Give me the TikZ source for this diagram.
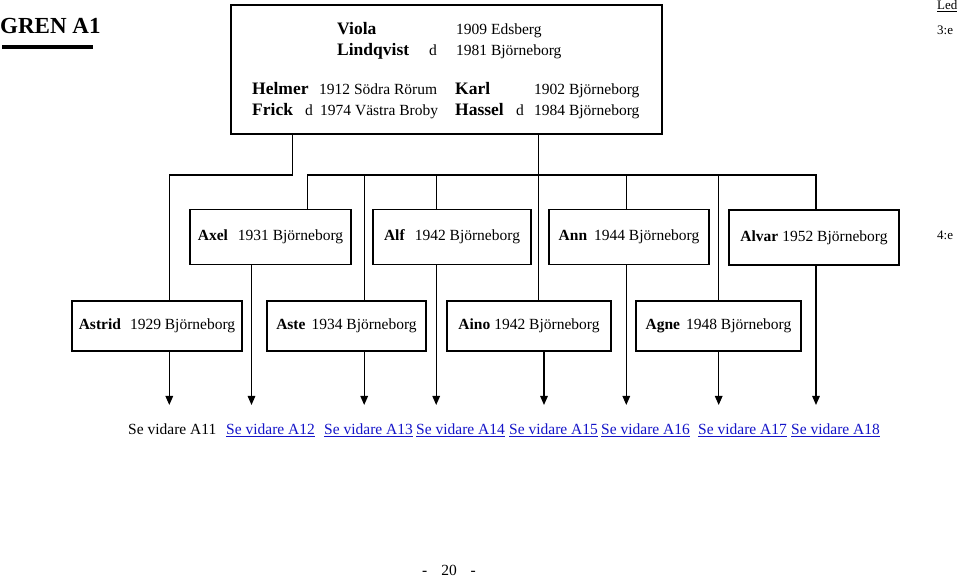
\documentclass[tikz,border=0pt]{standalone}
\usepackage{fontspec}
\setmainfont{Liberation Serif}
\usetikzlibrary{arrows.meta}

\definecolor{linkblue}{RGB}{20,20,200}

\tikzset{
  kid/.style={draw, line width=1.3pt, minimum height=55pt, inner sep=0pt,
    font=\fontsize{15.5}{18}\selectfont},
  link/.style={line width=1.3pt},
  down/.style={link, -{Triangle[length=9pt,width=7.5pt]}},
  txt/.style={anchor=base west, inner sep=0pt, font=\fontsize{15.5}{18}\selectfont},
  pname/.style={anchor=base west, inner sep=0pt, font=\fontsize{17.5}{20}\selectfont\bfseries},
  seref/.style={anchor=base west, inner sep=0pt, text=linkblue, font=\fontsize{15.5}{18}\selectfont}
}

\begin{document}
\begin{tikzpicture}[x=1pt,y=-1pt]
    \useasboundingbox (0,0) rectangle (959,577);

    % Heading
    \node[anchor=base west, inner sep=0pt, font=\fontsize{23}{26}\selectfont\bfseries] (gren) at (0,34) {GREN A1};
    \fill (2,45) rectangle (93,49.5);

    % Generation markers
    \node[anchor=base west, inner sep=0pt, font=\fontsize{13}{15}\selectfont] (led) at (937,10) {\underline{Led}};
    \node[anchor=base west, inner sep=0pt, font=\fontsize{13}{15}\selectfont] (gen3) at (937,35) {3:e};
    \node[anchor=base west, inner sep=0pt, font=\fontsize{13}{15}\selectfont] (gen4) at (937,240) {4:e};

    % Parents box
    \node[draw, line width=1.5pt, minimum width=431pt, minimum height=129pt] (fam) at (446.5,69.5) {};
    \node[pname] (viola) at (337,34.5) {Viola};
    \node[txt] (violab) at (456,34.5) {1909 Edsberg};
    \node[pname] (lindq) at (337,55.5) {Lindqvist};
    \node[txt] (violad) at (429,55.5) {d};
    \node[txt] (violadd) at (456,55.5) {1981 Björneborg};
    \node[pname] (helmer) at (252,94.5) {Helmer};
    \node[txt] (helmerb) at (319,94.5) {1912 Södra Rörum};
    \node[pname] (frick) at (252,115.5) {Frick};
    \node[txt] (frickd) at (305,115.5) {d};
    \node[txt] (frickdd) at (320,115.5) {1974 Västra Broby};
    \node[pname] (karl) at (455,94.5) {Karl};
    \node[txt] (karlb) at (534,94.5) {1902 Björneborg};
    \node[pname] (hassel) at (455,115.5) {Hassel};
    \node[txt] (hasseld) at (516,115.5) {d};
    \node[txt] (hasseldd) at (534,115.5) {1984 Björneborg};

    % Children, first row
    \node[kid, minimum width=161pt] (axel) at (270.5,237) {\textbf{Axel}\hspace{10pt}1931 Björneborg};
    \node[kid, minimum width=158pt] (alf) at (452,237) {\textbf{Alf}\hspace{10pt}1942 Björneborg};
    \node[kid, minimum width=160pt] (ann) at (629,237) {\textbf{Ann}\hspace{7pt}1944 Björneborg};
    \node[kid, minimum width=170pt] (alvar) at (814,237.5) {\textbf{Alvar}\hspace{4pt}1952 Björneborg};

    % Children, second row
    \node[kid, minimum width=170pt, minimum height=50pt] (astrid) at (157,326) {\textbf{Astrid}\hspace{9pt}1929 Björneborg};
    \node[kid, minimum width=159pt, minimum height=50pt] (aste) at (346.5,326) {\textbf{Aste}\hspace{6pt}1934 Björneborg};
    \node[kid, minimum width=164pt, minimum height=50pt] (aino) at (529,326) {\textbf{Aino}\hspace{4pt}1942 Björneborg};
    \node[kid, minimum width=165pt, minimum height=50pt] (agne) at (718.5,326) {\textbf{Agne}\hspace{6pt}1948 Björneborg};

    % Ends of the arrows
    \coordinate (a11) at (169.3,405);
    \coordinate (a12) at (251.5,405);
    \coordinate (a13) at (364.2,405);
    \coordinate (a14) at (436.2,405);
    \coordinate (a15) at (544,405);
    \coordinate (a16) at (626.3,405);
    \coordinate (a17) at (718.7,405);
    \coordinate (a18) at (816,405);

    % Line from Helmer down to Astrid
    \coordinate (hbar) at (292.5,175);
    \draw[link] (hbar |- fam.south) -- (hbar) -| (a11 |- astrid.north);

    % Lines from Karl to his children
    \coordinate (kbar) at (538.5,175);
    \coordinate (kleft) at (307.7,175);
    \draw[link] (kbar |- fam.south) -- (kbar |- aino.north);
    \draw[link] (kleft |- axel.north) -- (kleft) -- (a18 |- kbar) -- (a18 |- alvar.north);
    \draw[link] (a13 |- kbar) -- (a13 |- aste.north);
    \draw[link] (a14 |- kbar) -- (a14 |- alf.north);
    \draw[link] (a16 |- kbar) -- (a16 |- ann.north);
    \draw[link] (a17 |- kbar) -- (a17 |- agne.north);

    % Arrows to the next branches
    \draw[down] (a11 |- astrid.south) -- (a11);
    \draw[down] (a12 |- axel.south) -- (a12);
    \draw[down] (a13 |- aste.south) -- (a13);
    \draw[down] (a14 |- alf.south) -- (a14);
    \draw[down] (a15 |- aino.south) -- (a15);
    \draw[down] (a16 |- ann.south) -- (a16);
    \draw[down] (a17 |- agne.south) -- (a17);
    \draw[down] (a18 |- alvar.south) -- (a18);

    % References
    \node[txt] (se11) at (128,435) {Se vidare A11};
    \node[seref] (se12) at (226,435) {\underline{Se vidare A12}};
    \node[seref] (se13) at (324,435) {\underline{Se vidare A13}};
    \node[seref] (se14) at (416,435) {\underline{Se vidare A14}};
    \node[seref] (se15) at (509,435) {\underline{Se vidare A15}};
    \node[seref] (se16) at (601,435) {\underline{Se vidare A16}};
    \node[seref] (se17) at (698,435) {\underline{Se vidare A17}};
    \node[seref] (se18) at (791,435) {\underline{Se vidare A18}};

    % Page number
    \node[anchor=base, inner sep=0pt, font=\fontsize{15.5}{18}\selectfont] (page) at (449,575) {-\hspace{14pt}20\hspace{14pt}-};
\end{tikzpicture}
\end{document}
